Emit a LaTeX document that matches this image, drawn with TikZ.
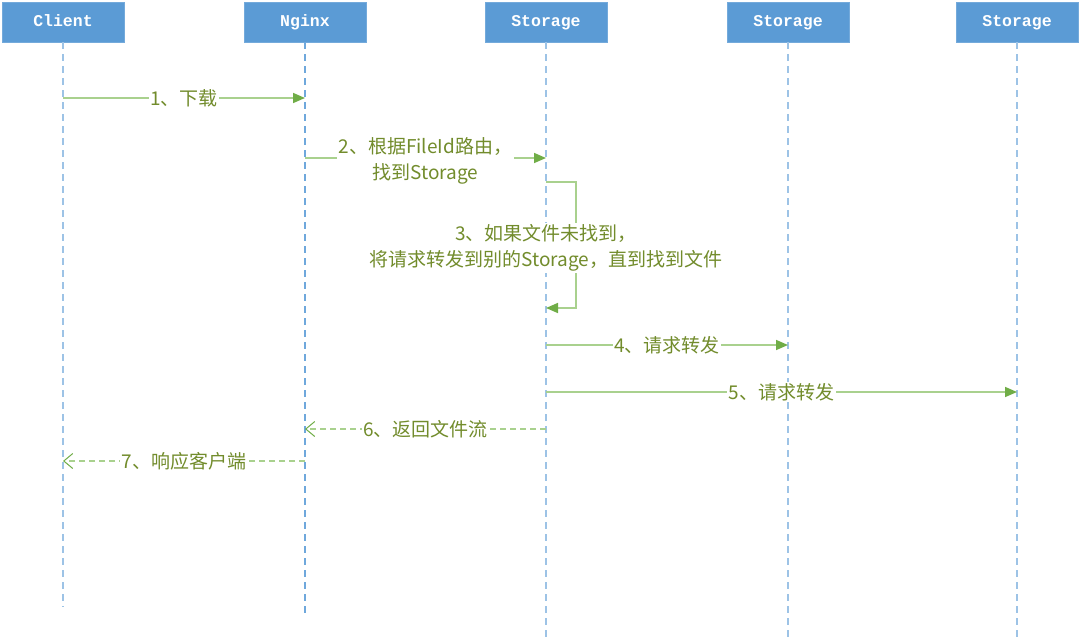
\documentclass[tikz,border=0pt]{standalone}
\usepackage{fontspec}
\setmonofont{Liberation Mono}
\newfontfamily\cjk{Noto Sans CJK SC}
\usetikzlibrary{arrows.meta,calc}
\definecolor{boxblue}{HTML}{5B9BD5}
\definecolor{lifeblue}{HTML}{9DC3E6}
\definecolor{lifeblueB}{HTML}{6FA8DC}
\definecolor{msgline}{HTML}{A9D18E}
\definecolor{msghead}{HTML}{70AD47}
\definecolor{msgtext}{HTML}{728C2C}
\tikzset{
  actor/.style={fill=boxblue, draw=boxblue!85!white, line width=0.6pt, minimum width=122pt, minimum height=40pt, inner sep=0pt, text=white, text height=11pt, text depth=3pt, font=\ttfamily\bfseries\fontsize{16.5}{18}\selectfont},
  lifeline/.style={draw=lifeblue, line width=1.1pt, dash pattern=on 7pt off 5pt},
  msg/.style={draw=msgline, line width=1.6pt, -{Triangle[length=12pt,width=10pt,fill=msghead,color=msghead]}},
  ret/.style={draw=msgline, line width=1.6pt, dash pattern=on 6pt off 4pt, -{Straight Barb[length=9pt,width=15pt,line width=1pt,color=msghead]}},
  lbl/.style={fill=white, inner sep=1.5pt, text=msgtext, align=center, font=\cjk\fontsize{19}{26}\selectfont},
}
\begin{document}
\begin{tikzpicture}[x=1pt,y=-1pt]
\useasboundingbox (0,0) rectangle (1080,640);
% actors
\node[actor] (client) at (63,22) {Client};
\node[actor] (nginx) at (305,22) {Nginx};
\node[actor] (s1) at (546,22) {Storage};
\node[actor] (s2) at (788,22) {Storage};
\node[actor] (s3) at (1017,22) {Storage};
% lifeline ends
\coordinate (clientE) at (63,607);
\coordinate (nginxE) at (305,617);
\coordinate (s1E) at (546,640);
\coordinate (s2E) at (788,640);
\coordinate (s3E) at (1017,640);
\draw[lifeline] (client.south) -- (clientE);
\draw[lifeline, draw=lifeblueB] (nginx.south) -- (nginxE);
\draw[lifeline] (s1.south) -- (s1E);
\draw[lifeline] (s2.south) -- (s2E);
\draw[lifeline] (s3.south) -- (s3E);
% message anchor points
\coordinate (c1) at (63,98);   \coordinate (n1) at (305,98);
\coordinate (n2) at (305,158); \coordinate (a2) at (546,158);
\coordinate (a3) at (546,182); \coordinate (a3b) at (546,308);
\coordinate (a4) at (546,345); \coordinate (b4) at (788,345);
\coordinate (a5) at (546,392); \coordinate (c5) at (1017,392);
\coordinate (a6) at (546,429); \coordinate (n6) at (305,429);
\coordinate (n7) at (305,461); \coordinate (c7) at (63,461);
% messages
\draw[msg] (c1) -- node[lbl] (m1) {1、下载} (n1);
\draw[msg] (n2) -- node[lbl, yshift=-3pt] (m2) {2、根据FileId路由，\\找到Storage} (a2);
\draw[msg] (a3) -- ++(30,0) -- ($(a3b)+(30,0)$) -- (a3b);
\node[lbl] (m3) at (546,248) {3、如果文件未找到，\\将请求转发到别的Storage，直到找到文件};
\draw[msg] (a4) -- node[lbl] (m4) {4、请求转发} (b4);
\draw[msg] (a5) -- node[lbl] (m5) {5、请求转发} (c5);
\draw[ret] (a6) -- node[lbl] (m6) {6、返回文件流} (n6);
\draw[ret] (n7) -- node[lbl] (m7) {7、响应客户端} (c7);
\end{tikzpicture}
\end{document}
